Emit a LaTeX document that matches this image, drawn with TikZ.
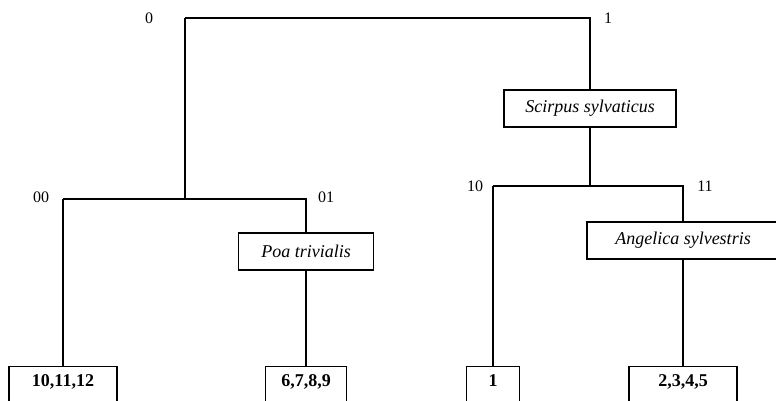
\documentclass[tikz,border=0pt]{standalone}
\usepackage{fontspec}
\setmainfont{Liberation Serif}

\begin{document}
\begin{tikzpicture}[x=1pt,y=-1pt,line width=1.1pt,
    split/.style={draw,rectangle,minimum width=#1,minimum height=37pt,inner sep=0pt,
      font=\fontsize{18}{21}\selectfont\itshape},
    leaf/.style={draw,rectangle,minimum width=#1,text height=20pt,text depth=30pt,
      inner sep=0pt,anchor=base,font=\fontsize{18}{21}\selectfont\bfseries},
    code/.style={font=\fontsize{16}{19}\selectfont}]
\useasboundingbox (0,0) rectangle (776,400);
\clip (0,0) rectangle (776,400);
\coordinate (j0) at (185,18);
\coordinate (j1) at (590,18);
\coordinate (j00) at (63,199);
\coordinate (j01) at (306,199);
\coordinate (j10) at (493,186);
\coordinate (j11) at (683,186);
\node[code] (c0) at (149,18) {0};
\node[code] (c1) at (608,18) {1};
\node[code] (c00) at (41,197) {00};
\node[code] (c01) at (326,197) {01};
\node[code] (c10) at (475,186) {10};
\node[code] (c11) at (705,186) {11};
\node[split=172pt] (sc) at (590,108.5) {Scirpus sylvaticus};
\node[split=135pt] (poa) at (306,251.5) {Poa trivialis};
\node[split=192pt] (ang) at (683,240.5) {Angelica sylvestris};
\node[leaf=108pt] (l1) at (63,386.5) {10,11,12};
\node[leaf=81pt] (l2) at (306,386.5) {6,7,8,9};
\node[leaf=53pt] (l3) at (493,386.5) {1};
\node[leaf=108pt] (l4) at (683,386.5) {2,3,4,5};
\draw (j0) -- (j1) -- (sc);
\draw (j0) -- (j0 |- j00);
\draw (j00) -- (j01) -- (poa);
\draw (j00) -- (l1);
\draw (poa) -- (l2);
\draw (sc) -- (sc |- j10);
\draw (j10) -- (j11) -- (ang);
\draw (j10) -- (l3);
\draw (ang) -- (l4);
\end{tikzpicture}
\end{document}
